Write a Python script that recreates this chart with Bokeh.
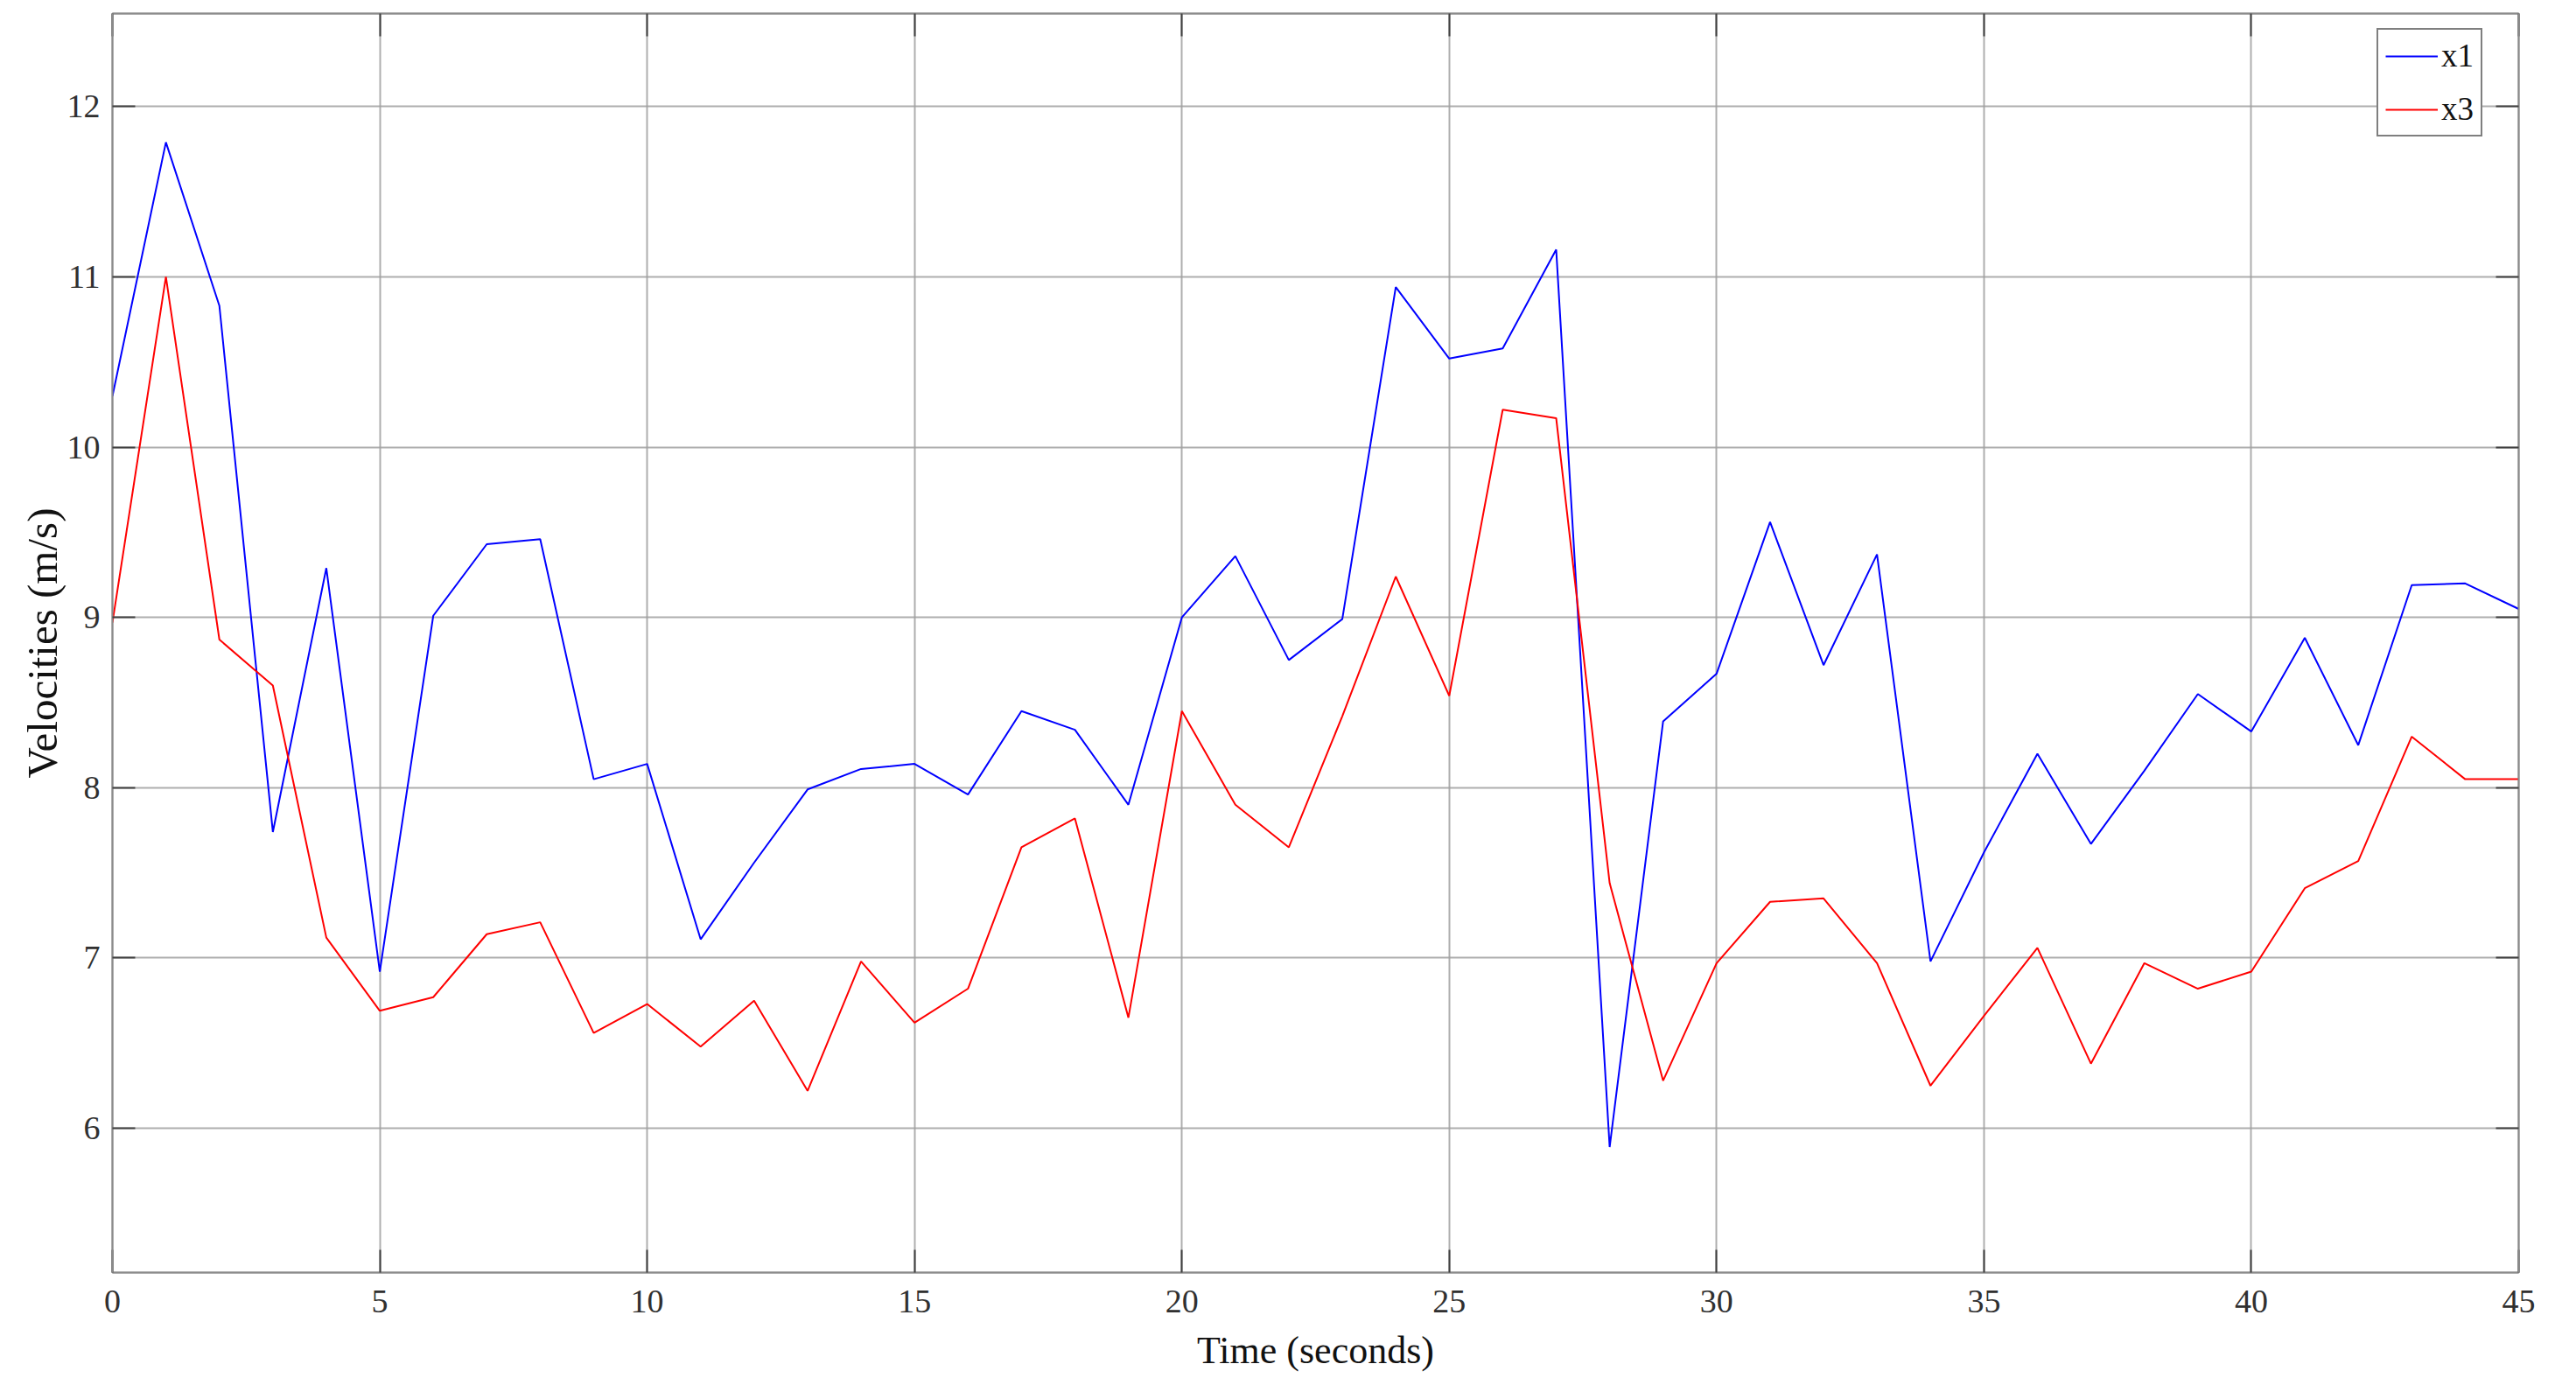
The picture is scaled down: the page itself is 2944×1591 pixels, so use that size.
from bokeh.plotting import figure
from bokeh.models import LinearAxis, FixedTicker, Range1d
from bokeh.embed import file_html
from bokeh.resources import INLINE

# ---- data ----
time = list(range(46))
x1 = [10.30, 11.79, 10.83, 7.74, 9.29, 6.92, 9.01, 9.43, 9.46, 8.05, 8.14, 7.11,
      7.56, 7.99, 8.11, 8.14, 7.96, 8.45, 8.34, 7.90, 9.00, 9.36, 8.75,
      8.99, 10.94, 10.52, 10.58, 11.16, 5.89, 8.39, 8.67, 9.56, 8.72, 9.37,
      6.98, 7.62, 8.20, 7.67, 8.10, 8.55, 8.33, 8.88, 8.25, 9.19, 9.20, 9.05]
x3 = [8.97, 11.00, 8.87, 8.60, 7.12, 6.69, 6.77, 7.14, 7.21, 6.56, 6.73, 6.48,
      6.75, 6.22, 6.98, 6.62, 6.82, 7.65, 7.82, 6.65, 8.45, 7.90, 7.65,
      8.42, 9.24, 8.54, 10.22, 10.17, 7.44, 6.28, 6.97, 7.33, 7.35, 6.97,
      6.25, 6.66, 7.06, 6.38, 6.97, 6.82, 6.92, 7.41, 7.57, 8.30, 8.05, 8.05]
x_ticks = [0, 5, 10, 15, 20, 25, 30, 35, 40, 45]
y_ticks = [6, 7, 8, 9, 10, 11, 12]
x_label = "Time (seconds)"
y_label = "Velocities (m/s)"

FONT = "Liberation Serif"

p = figure(width=2920, height=1580, output_backend="svg", toolbar_location=None,
           x_range=Range1d(0, 45), y_range=Range1d(5.153, 12.546),
           min_border_left=128, min_border_right=42, min_border_top=15,
           min_border_bottom=126, x_axis_location=None, y_axis_location=None)

p.background_fill_color = "white"
p.border_fill_color = "white"
p.outline_line_color = "#a8a8a8"
p.outline_line_width = 2

def style_axis(ax, ticks, show_labels):
    ax.ticker = FixedTicker(ticks=ticks)
    ax.axis_line_color = "#8a8a8a"
    ax.axis_line_width = 2
    ax.major_tick_in = 26
    ax.major_tick_out = 0
    ax.major_tick_line_color = "#404040"
    ax.major_tick_line_width = 2
    ax.minor_tick_line_color = None
    if show_labels:
        ax.major_label_text_font = FONT
        ax.major_label_text_font_size = "38px"
        ax.major_label_text_color = "#303030"
        ax.axis_label_text_font = FONT
        ax.axis_label_text_font_size = "44px"
        ax.axis_label_text_font_style = "normal"
        ax.axis_label_text_color = "#111111"
    else:
        ax.major_label_text_font_size = "0px"
        ax.major_label_standoff = 0
        ax.major_label_text_alpha = 0

xb = LinearAxis(axis_label=x_label)
style_axis(xb, x_ticks, True)
xb.major_label_standoff = 20
xb.axis_label_standoff = 16
p.add_layout(xb, "below")

yl = LinearAxis(axis_label=y_label)
style_axis(yl, y_ticks, True)
yl.axis_label_text_font_size = "49px"
yl.major_label_standoff = 14
yl.axis_label_standoff = -2
p.add_layout(yl, "left")

xt = LinearAxis()
style_axis(xt, x_ticks, False)
p.add_layout(xt, "above")

yr = LinearAxis()
style_axis(yr, y_ticks, False)
p.add_layout(yr, "right")

p.xgrid.ticker = FixedTicker(ticks=x_ticks)
p.ygrid.ticker = FixedTicker(ticks=y_ticks)
for g in (p.xgrid, p.ygrid):
    g.grid_line_color = "#a0a0a0"
    g.grid_line_width = 2
    g.grid_line_alpha = 0.85

p.line(time, x1, line_color="#0000ff", line_width=2, legend_label="x1")
p.line(time, x3, line_color="#ff0000", line_width=2, legend_label="x3")

lg = p.legend[0]
lg.location = (2588, 1298)
lg.border_line_color = "black"
lg.border_line_width = 2
lg.background_fill_color = "white"
lg.background_fill_alpha = 1.0
lg.padding = 8
lg.margin = 0
lg.spacing = 18
lg.glyph_width = 60
lg.glyph_height = 40
lg.label_height = 40
lg.label_standoff = 4
lg.label_text_font = FONT
lg.label_text_font_size = "37px"
lg.label_text_color = "#111111"

open("out.html", "w").write(file_html(p, INLINE))
